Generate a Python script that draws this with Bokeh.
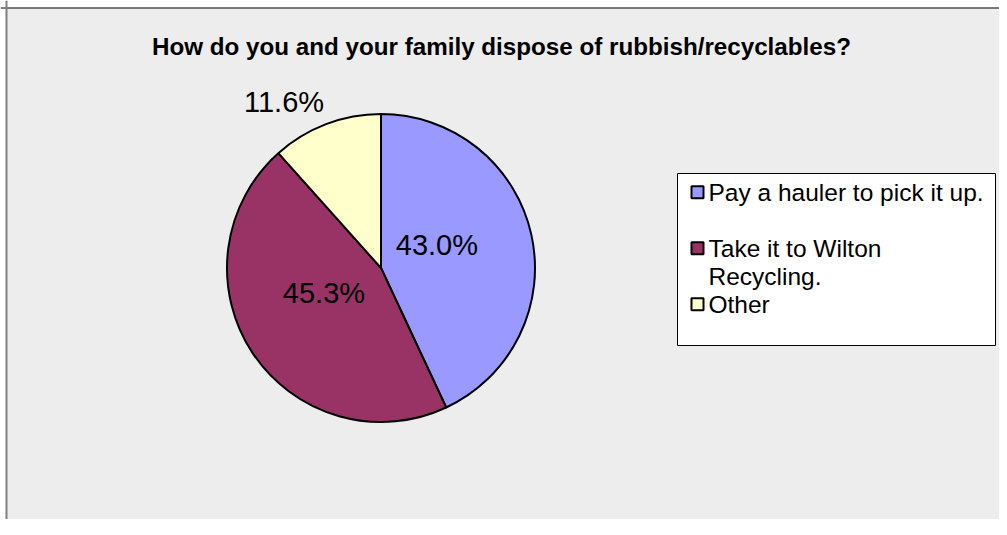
import math
from bokeh.plotting import figure
from bokeh.models import Range1d, ColumnDataSource, Span
from bokeh.core.properties import value
from bokeh.embed import file_html
from bokeh.resources import INLINE

# ---- data ----
title_text = "How do you and your family dispose of rubbish/recyclables?"
categories = ["Pay a hauler to pick it up.", "Take it to Wilton\nRecycling.", "Other"]
shares = [43.0, 45.3, 11.6]
colors = ["#9999FF", "#993366", "#FFFFCC"]

# ---- layout (pixel coordinates; y is negated so that up is positive) ----
FONT = "Liberation Sans"
W, H = 999, 519
CX, CY, R = 380.5, -267.5, 154.0

p = figure(width=W, height=H, x_range=Range1d(0, W), y_range=Range1d(-H, 0),
           output_backend="svg", toolbar_location=None, min_border=0,
           x_axis_location=None, y_axis_location=None,
           background_fill_color="white", border_fill_color="white",
           outline_line_color=None)
p.grid.visible = False

# chart area and its frame lines (top black, left grey)
p.quad(left=[5], right=[W], top=[-7], bottom=[-H], fill_color="#EDEDED", line_color=None)
p.add_layout(Span(location=-7.5, dimension="width", line_color="black", line_width=1))
p.add_layout(Span(location=6, dimension="height", line_color="#808080", line_width=2))

# ---- pie ----
total = sum(shares)
starts, ends, mids = [], [], []
cum = 0.0
for v in shares:
    a0 = math.pi / 2 - 2 * math.pi * cum / total
    cum += v
    a1 = math.pi / 2 - 2 * math.pi * cum / total
    starts.append(a0)
    ends.append(a1)
    mids.append((a0 + a1) / 2)

src = ColumnDataSource(dict(start=starts, end=ends, color=colors))
p.wedge(x=CX, y=CY, radius=R, start_angle="start", end_angle="end", direction="clock",
        fill_color="color", line_color="black", line_width=2, source=src)

# ---- data labels ----
in_x, in_y, in_t = [], [], []
out_x, out_y, out_t = [], [], []
for v, m in zip(shares, mids):
    t = f"{v:.1f}%"
    if v / total < 0.15:
        out_x.append(CX + R * math.cos(m))
        out_y.append(CY + R * math.sin(m))
        out_t.append(t)
    else:
        d = 0.405 * R
        in_x.append(CX + d * math.cos(m))
        in_y.append(CY + d * math.sin(m))
        in_t.append(t)

p.text(x=in_x, y=in_y, text=in_t, text_align="center", text_baseline="middle",
       x_offset=-5, y_offset=-9,
       text_font=value(FONT), text_font_size="29px", text_color="black")
p.text(x=out_x, y=out_y, text=out_t, text_align="right", text_baseline="middle",
       x_offset=-2, y_offset=-22,
       text_font=value(FONT), text_font_size="29px", text_color="black")

# ---- title ----
p.text(x=[501], y=[-45.5], text=[title_text], text_align="center", text_baseline="middle",
       text_font=value(FONT), text_font_size="24.2px", text_font_style="bold", text_color="black")

# ---- legend ----
LX0, LX1, LY0, LY1 = 677, 995, 173, 345
p.rect(x=[(LX0 + LX1) / 2], y=[-(LY0 + LY1) / 2], width=[LX1 - LX0], height=[LY1 - LY0],
       fill_color="white", line_color="black", line_width=1)

first_mid, item_step, line_h = 191.8, 56, 28
sq_x, sq_y = [], []
tx, ty, tt = [], [], []
for i, cat in enumerate(categories):
    mid = first_mid + item_step * i
    sq_x.append(697)
    sq_y.append(-mid)
    for j, line in enumerate(cat.split("\n")):
        tx.append(708)
        ty.append(-(mid + line_h * j))
        tt.append(line)

p.rect(x=sq_x, y=sq_y, width=12, height=12, fill_color=colors, line_color="black", line_width=2)
p.text(x=tx, y=ty, text=tt, text_align="left", text_baseline="middle",
       text_font=value(FONT), text_font_size="24.5px", text_color="black")

open("out.html", "w").write(file_html(p, INLINE))
